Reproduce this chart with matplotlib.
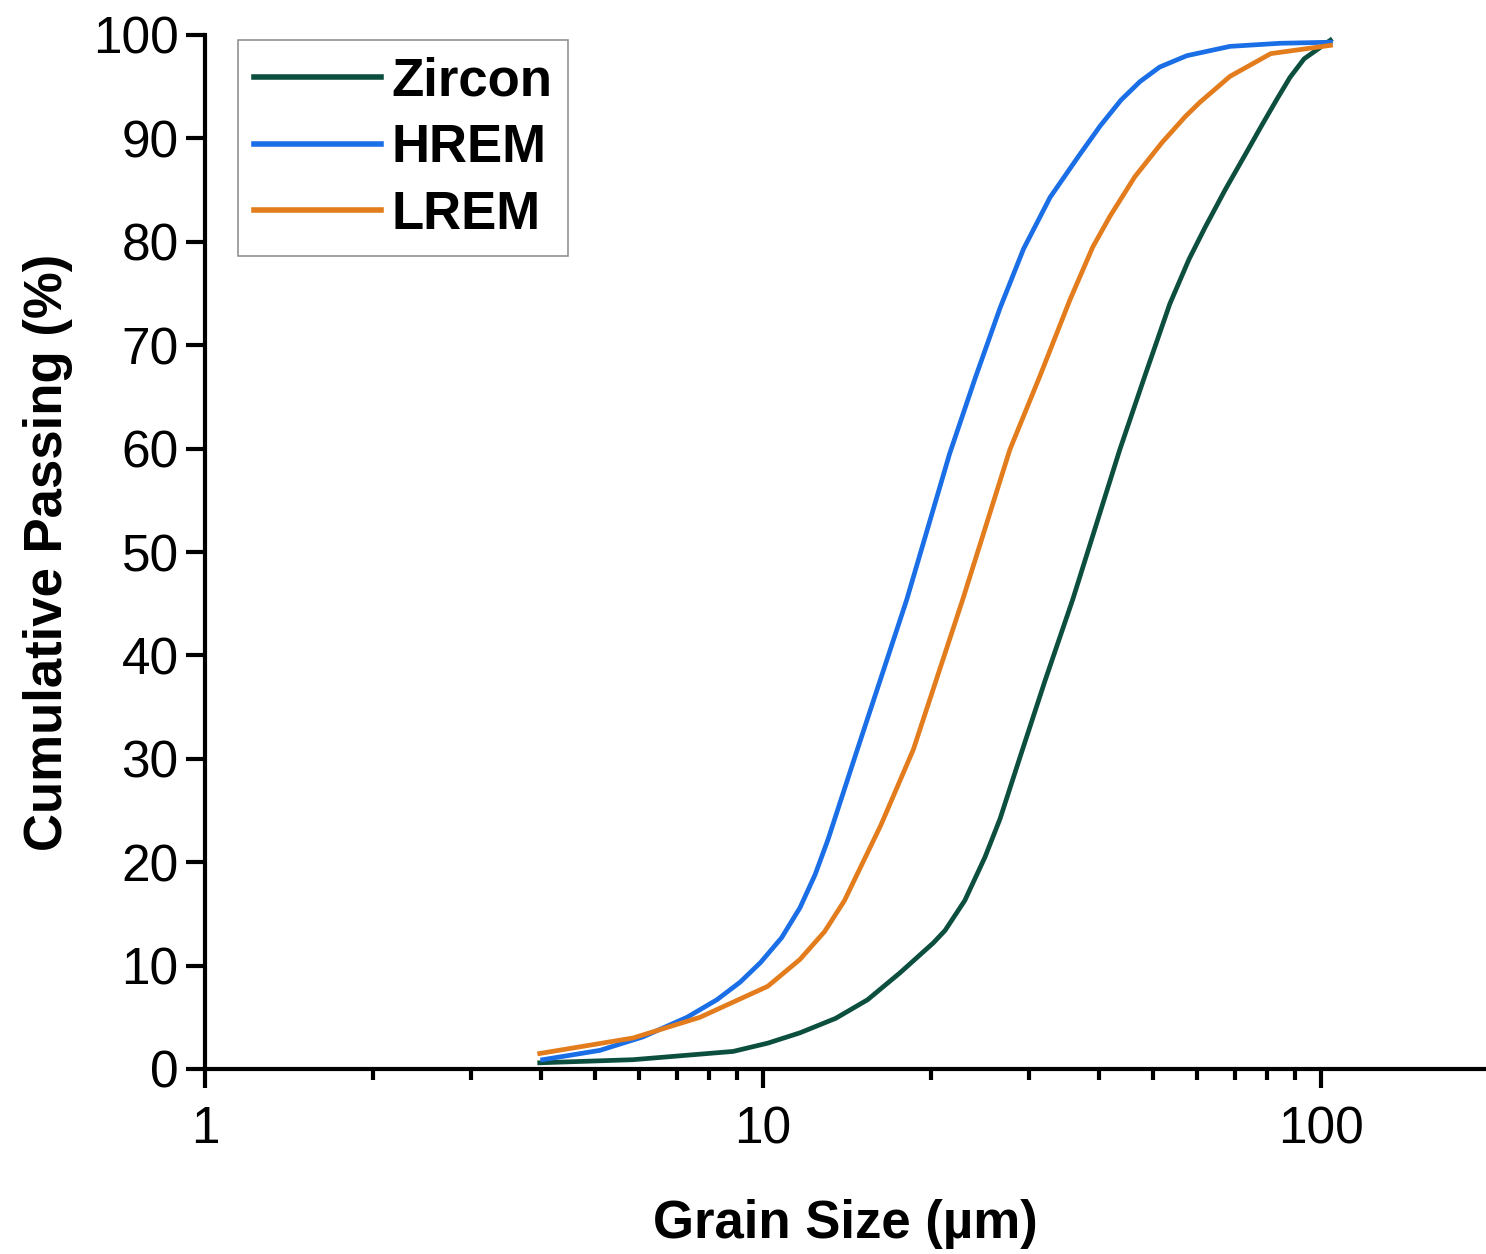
import matplotlib
matplotlib.use("Agg")
import matplotlib.pyplot as plt
from matplotlib.ticker import LogLocator, NullFormatter, FixedLocator

plt.rcParams['font.family'] = ['Liberation Sans', 'DejaVu Sans']

# grain size (um) and cumulative passing (%)
zircon_x = [3.98, 5.85, 8.84, 10.2, 11.65, 13.5, 15.4, 17.6, 20.2, 21.2, 23.0, 25.0, 26.6,
            28.9, 32.0, 35.9, 43.6, 48.4, 53.6, 58.0, 62.0, 67.3, 73.1, 78.4, 83.4, 88.0,
            93.3, 104]
zircon_y = [0.6, 0.9, 1.7, 2.5, 3.5, 4.9, 6.7, 9.3, 12.2, 13.4, 16.3, 20.5, 24.2,
            30.2, 37.5, 45.4, 59.9, 67.1, 74.0, 78.3, 81.4, 85.0, 88.4, 91.3, 93.8, 95.9,
            97.7, 99.5]

hrem_x = [4.03, 5.10, 6.09, 7.31, 8.27, 9.10, 9.90, 10.8, 11.65, 12.4, 13.08, 14.7, 18.1,
          21.6, 24.0, 26.6, 29.3, 32.7, 36.8, 40.2, 43.8, 47.4, 51.4, 57.5, 68.7, 84.5, 104]
hrem_y = [0.9, 1.8, 3.1, 5.0, 6.7, 8.4, 10.3, 12.7, 15.6, 18.8, 22.2, 30.6, 45.4,
          59.5, 66.8, 73.6, 79.3, 84.3, 88.3, 91.2, 93.7, 95.5, 96.9, 98.0, 98.9, 99.2, 99.3]

lrem_x = [3.98, 5.85, 7.71, 10.2, 11.65, 12.9, 14.0, 16.27, 18.6, 22.8, 27.7, 31.4, 35.5,
          39.0, 41.9, 46.4, 51.9, 57.1, 60.7, 68.7, 81.3, 104]
lrem_y = [1.5, 3.0, 5.0, 8.0, 10.6, 13.3, 16.3, 23.6, 30.9, 45.4, 59.9, 67.1, 74.4,
          79.5, 82.5, 86.3, 89.6, 92.1, 93.5, 96.0, 98.2, 99.0]

series = [
    ("Zircon", zircon_x, zircon_y, "#0c4f3e"),
    ("HREM", hrem_x, hrem_y, "#1a6ee6"),
    ("LREM", lrem_x, lrem_y, "#e27c1c"),
]

fig = plt.figure(figsize=(14.86, 12.54), dpi=100)
ax = fig.add_axes([205 / 1486, 1 - 1069 / 1254, 1 - 205 / 1486, (1069 - 35) / 1254])

for name, xs, ys, col in series:
    ax.plot(xs, ys, color=col, lw=3.4, label=name, solid_joinstyle='round')

ax.set_xscale('log')
ax.set_xlim(1, 197.6)
ax.set_ylim(0, 100)
ax.set_yticks(range(0, 101, 10))
ax.xaxis.set_major_locator(FixedLocator([1, 10, 100]))
ax.set_xticklabels(['1', '10', '100'])
ax.xaxis.set_minor_locator(LogLocator(base=10, subs=range(2, 10)))
ax.xaxis.set_minor_formatter(NullFormatter())

for side in ['top', 'right']:
    ax.spines[side].set_visible(False)
for side in ['left', 'bottom']:
    ax.spines[side].set_linewidth(3)

ax.tick_params(axis='both', which='major', direction='out', length=14, width=3,
               labelsize=37, pad=5)
ax.tick_params(axis='x', which='minor', direction='out', length=8, width=3)
ax.tick_params(axis='x', which='major', pad=12)

ax.set_xlabel('Grain Size (\u00b5m)', fontsize=38, fontweight='bold', labelpad=32)
ax.set_ylabel('Cumulative Passing (%)', fontsize=38, fontweight='bold', labelpad=14)

leg = ax.legend(loc='upper left', bbox_to_anchor=(0.022, 1.0),
                prop={'weight': 'bold', 'size': 38}, frameon=True, fancybox=False,
                handlelength=2.4, handletextpad=0.2, labelspacing=0.32,
                borderpad=0.3, borderaxespad=0.1)
leg.get_frame().set_edgecolor('#777777')
leg.get_frame().set_linewidth(1.2)
for line in leg.get_lines():
    line.set_linewidth(4)

fig.savefig('out.png', dpi=100)
